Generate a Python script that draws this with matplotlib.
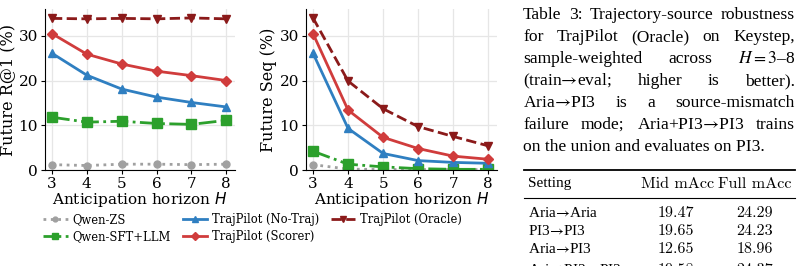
import matplotlib
matplotlib.use("Agg")
import matplotlib.pyplot as plt
import numpy as np

# data
horizons = [3, 4, 5, 6, 7, 8]
labels = ["Qwen-ZS", "Qwen-SFT+LLM", "TrajPilot (No-Traj)", "TrajPilot (Scorer)", "TrajPilot (Oracle)"]
r1_zs = [1.2, 1.0, 1.3, 1.3, 1.2, 1.3]
r1_sft = [11.8, 10.7, 10.9, 10.4, 10.2, 11.1]
r1_notraj = [26.1, 21.2, 18.1, 16.3, 15.1, 14.1]
r1_scorer = [30.5, 25.9, 23.7, 22.1, 21.1, 20.0]
r1_oracle = [33.9, 33.8, 33.9, 33.8, 34.0, 33.8]
seq_zs = [1.2, 0.2, 0.1, 0.1, 0.1, 0.1]
seq_sft = [4.2, 1.3, 0.7, 0.3, 0.15, 0.15]
seq_notraj = [26.1, 9.3, 3.7, 2.1, 1.7, 1.5]
seq_scorer = [30.5, 13.4, 7.3, 4.8, 3.1, 2.4]
seq_oracle = [34.0, 19.9, 13.7, 9.7, 7.5, 5.4]

caption_lines = [
    "Table 3: Trajectory-source robustness",
    "for TrajPilot (Oracle) on Keystep,",
    "sample-weighted across $H{=}3$–8",
    "(train$→$eval; higher is better).",
    "Aria$→$PI3 is a source-mismatch",
    "failure mode; Aria+PI3$→$PI3 trains",
    "on the union and evaluates on PI3.",
]
table_header = ["Setting", "Mid mAcc", "Full mAcc"]
table_settings = ["Aria$→$Aria", "PI3$→$PI3", "Aria$→$PI3", "Aria+PI3$→$PI3"]
table_mid = ["19.47", "19.65", "12.65", "19.58"]
table_full = ["24.29", "24.23", "18.96", "24.37"]

styles = [
    dict(color="#a0a0a0", ls=":", marker="o", ms=5),
    dict(color="#2ca02c", ls="-.", marker="s", ms=6.5),
    dict(color="#2f7fc1", ls="-", marker="^", ms=6),
    dict(color="#d03c3c", ls="-", marker="D", ms=5.5),
    dict(color="#8b1a1a", ls="--", marker="v", ms=6),
]

plt.rcParams["font.family"] = "DejaVu Serif"
W, H = 802, 266
fig = plt.figure(figsize=(W / 100, H / 100), dpi=100)

def px_axes(x0, y0, x1, y1):
    return fig.add_axes([x0 / W, (H - y1) / H, (x1 - x0) / W, (y1 - y0) / H])

ax1 = px_axes(45, 9, 235, 170)
ax2 = px_axes(306, 9, 497, 170)

for ax, series, ylab in [
    (ax1, [r1_zs, r1_sft, r1_notraj, r1_scorer, r1_oracle], "Future R@1 (%)"),
    (ax2, [seq_zs, seq_sft, seq_notraj, seq_scorer, seq_oracle], "Future Seq (%)"),
]:
    for ys, st, lab in zip(series, styles, labels):
        ax.plot(horizons, ys, color=st["color"], linestyle=st["ls"], marker=st["marker"],
                markersize=st["ms"], linewidth=2, label=lab)
    ax.set_xlim(2.8, 8.25)
    ax.set_ylim(0, 36)
    ax.set_xticks(horizons)
    ax.set_yticks([0, 10, 20, 30])
    ax.grid(True, color="#e6e6e6", linewidth=0.9)
    ax.set_axisbelow(True)
    for s in ["top", "right"]:
        ax.spines[s].set_visible(False)
    ax.tick_params(labelsize=11, length=3, pad=2)
    ax.set_ylabel(ylab, fontsize=11.5, labelpad=2)
    ax.set_xlabel("Anticipation horizon $H$", fontsize=11, labelpad=-1)

handles, labs = ax1.get_legend_handles_labels()
fig.legend(handles, labs, ncol=3, frameon=False, fontsize=8.3, markerscale=0.7,
           loc="upper left", bbox_to_anchor=(33 / W, 1 - 203 / H),
           handlelength=2.1, columnspacing=1.0, labelspacing=0.35, handletextpad=0.45)

# overlay in pixel coords for caption and table
ov = fig.add_axes([0, 0, 1, 1])
ov.set_xlim(0, W)
ov.set_ylim(H, 0)
ov.axis("off")

serif = ["Liberation Serif", "DejaVu Serif"]
cap_size = 12.6
renderer = fig.canvas.get_renderer()

def word_width(w):
    t = ov.text(0, 0, w, fontsize=cap_size, family=serif, math_fontfamily="stix")
    bb = t.get_window_extent(renderer=renderer)
    t.remove()
    return bb.width

x_left, x_right = 523, 795
line_y = [15, 37, 59, 81, 103, 125, 147]
for i, (line, y) in enumerate(zip(caption_lines, line_y)):
    if i == len(caption_lines) - 1:
        ov.text(x_left, y, line, fontsize=cap_size, family=serif, math_fontfamily="stix",
                va="center", ha="left")
        continue
    words = line.split(" ")
    widths = [word_width(w) for w in words]
    gap = (x_right - x_left - sum(widths)) / (len(words) - 1)
    x = x_left
    for w, wd in zip(words, widths):
        ov.text(x, y, w, fontsize=cap_size, family=serif, math_fontfamily="stix",
                va="center", ha="left")
        x += wd + gap

# table
tab_size = 11
num_size = 11.6
ov.plot([524, 795], [170, 170], color="black", lw=1.3)
ov.plot([524, 795], [198, 198], color="black", lw=0.8)
ov.text(528, 184, table_header[0], fontsize=tab_size, family=serif, va="center", ha="left")
ov.text(678, 184, table_header[1], fontsize=num_size, family="cmr10", va="center", ha="center")
ov.text(755, 184, table_header[2], fontsize=num_size, family="cmr10", va="center", ha="center")
row_y = [213, 231, 249, 270]
for name, m, f, y in zip(table_settings, table_mid, table_full, row_y):
    ov.text(528, y, name, fontsize=tab_size, family=serif, math_fontfamily="stix",
            va="center", ha="left")
    ov.text(676, y, m, fontsize=num_size, family="cmr10", va="center", ha="center")
    ov.text(755, y, f, fontsize=num_size, family="cmr10", va="center", ha="center")

fig.savefig("out.png", dpi=100)
